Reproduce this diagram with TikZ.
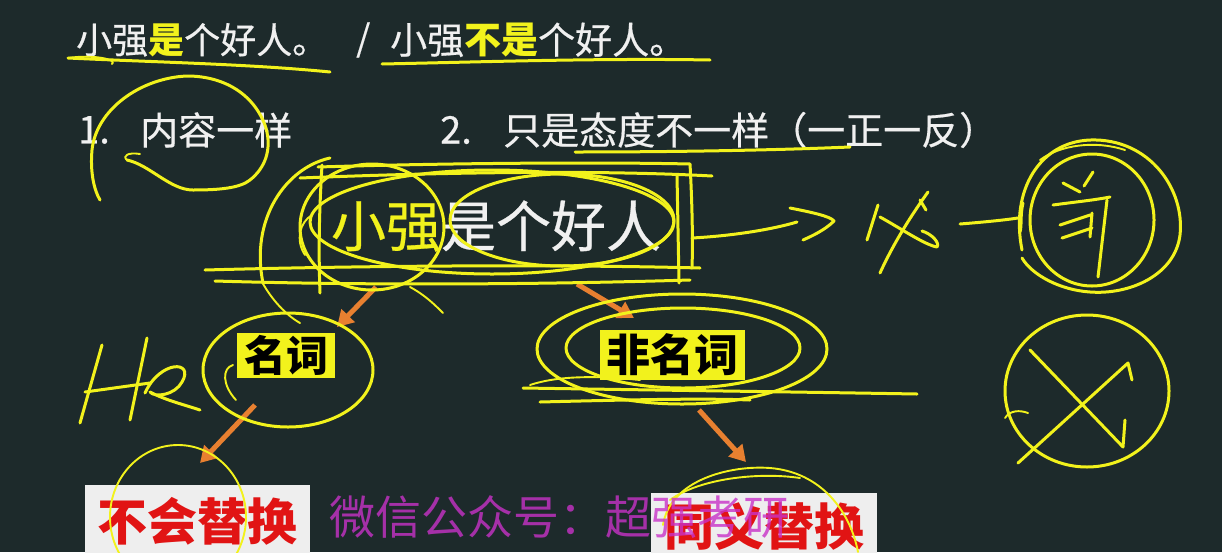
\documentclass[tikz,border=0pt]{standalone}
\usepackage{fontspec}
\setmainfont{Noto Sans CJK SC}
\newfontfamily\wf{Noto Sans CJK SC}[FakeBold=0.5]
\usetikzlibrary{arrows.meta}
\definecolor{bg}{RGB}{29,42,43}
\definecolor{hy}{RGB}{242,242,28}
\definecolor{org}{RGB}{232,128,48}
\definecolor{wm}{RGB}{200,50,200}
\definecolor{rd}{RGB}{225,20,20}
\definecolor{boxg}{RGB}{238,238,238}
\definecolor{txt}{RGB}{240,240,240}
\tikzset{
  hand/.style={draw=hy, line width=3pt, line cap=round, line join=round},
  thinhand/.style={draw=hy, line width=1.9pt, line cap=round, line join=round},
  oarr/.style={draw=org, line width=5pt, -{Triangle[length=16pt,width=18pt]}},
  plain/.style={text=txt, inner sep=0pt, anchor=west},
  tagbox/.style={fill=hy, text=black, inner sep=0pt},
  ansbox/.style={fill=boxg, text=rd, inner sep=0pt, font=\bfseries\fontsize{50}{52}\selectfont}
}
\begin{document}
\begin{tikzpicture}[x=1pt,y=-1pt]
\useasboundingbox (0,0) rectangle (1222,552);
\fill[bg] (0,0) rectangle (1222,552);
\clip (0,0) rectangle (1222,552);

% top lines
\node[plain, font=\wf\fontsize{36}{40}\selectfont] (s1) at (76,40) {小强{\color{hy}\normalfont\bfseries 是}个好人。};
\node[plain, font=\wf\fontsize{36}{40}\selectfont] (sl) at (356,40) {/};
\node[plain, font=\wf\fontsize{37}{40}\selectfont] (s2) at (390,40) {小强{\color{hy}\normalfont\bfseries 不是}个好人。};

\node[plain, font=\wf\fontsize{38}{40}\selectfont] (p1n) at (78,130) {1.};
\node[plain, font=\wf\fontsize{38}{40}\selectfont] (p1) at (140,130) {内容一样};
\node[plain, font=\wf\fontsize{38}{40}\selectfont] (p2n) at (440,130) {2.};
\node[plain, font=\wf\fontsize{38}{40}\selectfont] (p2) at (503,130) {只是态度不一样（一正一反）};

% main sentence
\node[text=txt, inner sep=0pt, font=\wf\fontsize{55}{58}\selectfont] (main) at (496,226) {{\color{hy}小强}是个好人};

% tags
\node[tagbox, minimum width=98pt, minimum height=45pt, font=\bfseries\fontsize{42}{44}\selectfont] (n1) at (286,355) {名词};
\node[tagbox, minimum width=145pt, minimum height=50pt, font=\bfseries\fontsize{44}{46}\selectfont] (n2) at (672,355) {非名词};

% answer boxes
\node[ansbox, minimum width=225pt, minimum height=72pt, anchor=north west] (b1) at (85,485) {不会替换};
\node[ansbox, minimum width=226pt, minimum height=66pt, anchor=north west] (b2) at (651,493) {同义替换};

% orange arrows
\coordinate (a1s) at (376,287); \coordinate (a1e) at (337,327);
\coordinate (a2s) at (577,284); \coordinate (a2e) at (634,318);
\coordinate (a3s) at (255,405); \coordinate (a3e) at (200,463);
\coordinate (a4s) at (699,410); \coordinate (a4e) at (746,462);
\draw[oarr] (a1s) -- (a1e);
\draw[oarr] (a2s) -- (a2e);
\draw[oarr] (a3s) -- (a3e);
\draw[oarr] (a4s) -- (a4e);

% underlines top
\draw[hand] (68,58) .. controls (150,62) and (250,64) .. (330,72);
\draw[thinhand] (68,58) .. controls (95,54) and (118,60) .. (112,64);
\draw[hand] (382,64) .. controls (480,62) and (600,58) .. (710,60);

% circle around 1
\draw[hand] (127,160) .. controls (150,165) and (170,190) .. (193,190) .. controls (220,190) and (240,188) .. (250,180) .. controls (265,168) and (272,150) .. (266,128) .. controls (255,95) and (225,76) .. (187,76) .. controls (140,78) and (96,110) .. (92,150) .. controls (90,172) and (94,190) .. (100,200);
\draw[thinhand] (127,160) .. controls (122,156) and (128,152) .. (140,154);

% underline attitude
\draw[hand] (575,152) .. controls (680,152) and (780,150) .. (850,147);

% tangle around main sentence
\draw[hand] (320,293) .. controls (318,240) and (320,200) .. (322,165);
\draw[hand] (300,178) .. controls (450,172) and (600,170) .. (712,176);
\draw[hand] (318,167) .. controls (450,163) and (600,162) .. (690,164) .. controls (692,200) and (693,240) .. (692,268);
\draw[hand] (205,270) .. controls (350,266) and (550,264) .. (700,268);
\draw[hand] (215,281) .. controls (380,286) and (560,284) .. (690,280);
\draw[hand] (372,227) ellipse [x radius=72, y radius=63];
\draw[hand] (492,222) ellipse [x radius=182, y radius=52];
\draw[hand] (562,220) ellipse [x radius=112, y radius=46];
\draw[hand] (677,175) -- (679,283);
\draw[hand] (263,283) .. controls (250,220) and (285,168) .. (330,158);
\draw[thinhand] (262,282) .. controls (272,300) and (286,315) .. (300,323);
\draw[thinhand] (410,287) .. controls (425,295) and (435,305) .. (443,313);
\draw[thinhand] (305,255) .. controls (295,240) and (300,222) .. (312,215);

% arrow to 必
\draw[hand] (692,238) .. controls (730,236) and (770,230) .. (797,222);
\draw[hand] (790,208) .. controls (810,212) and (830,216) .. (834,221) .. controls (825,230) and (812,236) .. (803,240);

% 必 (handwritten)
\draw[hand] (867,240) -- (878,205);
\draw[hand] (880,273) .. controls (895,240) and (915,210) .. (928,192);
\draw[hand] (880,217) .. controls (900,228) and (925,245) .. (937,247) .. controls (940,243) and (932,234) .. (922,231);
\draw[hand] (920,200) -- (926,210);

% dash
\draw[hand] (960,224) .. controls (985,222) and (1005,220) .. (1018,218);
\draw[hand] (1023,203) .. controls (1020,215) and (1022,225) .. (1020,232);

% circled 前
\draw[hand] (1092,220) ellipse [x radius=62, y radius=66];
\draw[hand] (1022,250) .. controls (1010,190) and (1040,142) .. (1090,140) .. controls (1150,138) and (1185,190) .. (1180,235) .. controls (1175,275) and (1130,295) .. (1090,292) .. controls (1060,290) and (1032,275) .. (1022,258);
\draw[thinhand] (1040,160) .. controls (1060,145) and (1095,140) .. (1125,150);
\draw[hand] (1063,183) -- (1080,192);
\draw[hand] (1093,172) -- (1084,186);
\draw[hand] (1053,205) .. controls (1075,202) and (1095,200) .. (1110,197);
\draw[hand] (1060,225) -- (1090,215);
\draw[hand] (1062,238) -- (1092,228);
\draw[hand] (1107,200) -- (1098,277);
\draw[hand] (1092,213) -- (1090,237);

% He
\draw[hand] (102,345) -- (80,423);
\draw[hand] (147,338) -- (130,420);
\draw[hand] (85,392) -- (150,383);
\draw[hand] (145,393) .. controls (160,360) and (195,360) .. (182,382) .. controls (175,395) and (155,398) .. (150,392) .. controls (165,400) and (185,405) .. (200,410);

% circle around 名词
\draw[hand] (288,370) ellipse [x radius=85, y radius=57];
\draw[thinhand] (233,365) .. controls (222,368) and (222,385) .. (236,400);

% circles around 非名词
\draw[hand] (682,349) ellipse [x radius=145, y radius=55];
\draw[hand] (683,348) ellipse [x radius=117, y radius=40];
\draw[hand] (523,388) .. controls (650,390) and (800,392) .. (917,394);
\draw[hand] (540,402) .. controls (620,400) and (700,398) .. (750,400);
\draw[thinhand] (530,385) .. controls (560,375) and (600,376) .. (640,380);

% circle with X
\draw[hand] (1087,391) ellipse [x radius=82, y radius=76];
\draw[hand] (1030,350) -- (1123,447) -- (1125,420);
\draw[hand] (1018,463) -- (1128,363) -- (1132,380);
\draw[thinhand] (1005,418) .. controls (1010,410) and (1020,410) .. (1028,413);

% circle around 不会替换
\draw[thinhand] (178,517) ellipse [x radius=68, y radius=72];

% arcs above right box
\draw[thinhand] (663,525) .. controls (670,480) and (730,465) .. (770,468) .. controls (820,472) and (850,510) .. (858,552);
\draw[thinhand] (670,500) .. controls (700,478) and (760,472) .. (800,478);

% watermark
\node[text=wm, opacity=0.8, inner sep=0pt, font=\fontsize{46}{48}\selectfont] (wmk) at (559,517) {微信公众号：超强考研};
\end{tikzpicture}
\end{document}
